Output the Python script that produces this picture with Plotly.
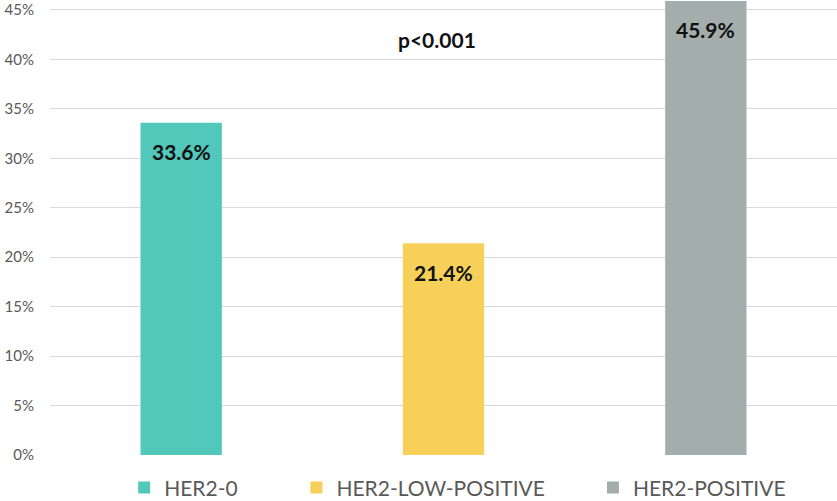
import plotly.graph_objects as go

categories = ["HER2-0", "HER2-LOW-POSITIVE", "HER2-POSITIVE"]
values = [0.336, 0.214, 0.459]
labels = ["33.6%", "21.4%", "45.9%"]
colors = ["#52C8BA", "#F7D05A", "#A3AEAC"]
tick_vals = [0, 0.05, 0.10, 0.15, 0.20, 0.25, 0.30, 0.35, 0.40, 0.45]
tick_text = ["0%", "5%", "10%", "15%", "20%", "25%", "30%", "35%", "40%", "45%"]
p_text = "p<0.001"

pads = ["\u00a0" * 10, "\u00a0" * 8, ""]

fig = go.Figure()
for c, v, col, pad in zip(categories, values, colors, pads):
    fig.add_trace(go.Bar(x=[c], y=[v], name=c + pad,
                         marker=dict(color=col, line=dict(width=0)), width=0.31))

for c, v, t in zip(categories, values, labels):
    fig.add_annotation(x=c, y=v, text="<b>" + t + "</b>", showarrow=False, yanchor="middle",
                       yshift=-29, font=dict(family="Lato", size=21, color="#111111"))

fig.add_annotation(x=categories[1], y=0.42, text="<b>" + p_text + "</b>", showarrow=False,
                   xshift=-7, font=dict(family="Lato", size=21, color="#111111"))

fig.update_layout(
    width=837, height=501,
    margin=dict(l=50, r=0, t=0, b=46, autoexpand=False),
    paper_bgcolor="white", plot_bgcolor="white",
    barmode="overlay",
    showlegend=True,
    legend=dict(orientation="h", x=0.518, xanchor="center", yref="container", y=0.026,
                yanchor="middle",
                font=dict(family="Lato", size=21, color="#595959"), itemwidth=30,
                traceorder="normal"),
    xaxis=dict(showticklabels=False, showgrid=False, zeroline=False, showline=False,
               categoryorder="array", categoryarray=categories, range=[-0.5, 2.5]),
    yaxis=dict(range=[0, 0.46], tickvals=tick_vals, ticktext=tick_text,
               showgrid=True, gridcolor="#D9D9D9", gridwidth=1, zeroline=False,
               showline=False, ticks="", ticklabelstandoff=15,
               tickfont=dict(family="Lato", size=15, color="#595959")),
    font=dict(family="Lato"),
)

fig.write_html("out.html")
